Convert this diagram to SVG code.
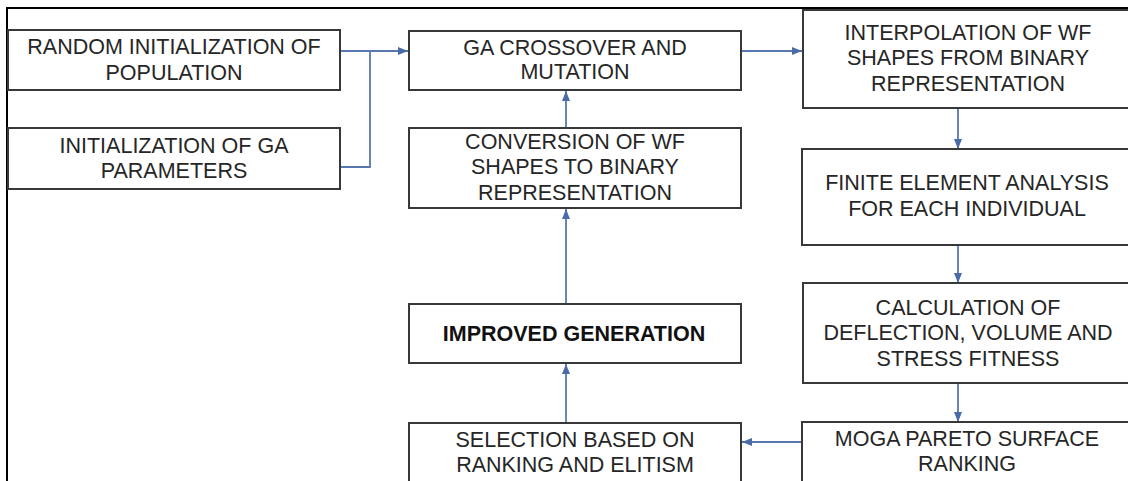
<svg xmlns="http://www.w3.org/2000/svg" width="1128" height="481" viewBox="0 0 1128 481">
  <defs>
    <marker id="arrow" markerUnits="userSpaceOnUse" markerWidth="11" markerHeight="10" refX="10" refY="5" orient="auto">
      <path d="M0,1 L10,5 L0,9 Z" fill="#4a6aa8"/>
    </marker>
    <style>
      .box { fill: #ffffff; stroke: #383838; stroke-width: 2; }
      .lbl { font-family: "Liberation Sans", Arial, sans-serif; font-size: 21.5px; fill: #262626; text-anchor: middle; }
      .bold { font-weight: bold; fill: #111111; }
      .conn { fill: none; stroke: #5a78b0; stroke-width: 1.8; }
      .frame { fill: none; stroke: #000000; stroke-width: 2; }
    </style>
  </defs>

  <rect x="0" y="0" width="1128" height="481" fill="#ffffff"/>

  <!-- outer frame (top and left edges) -->
  <path class="frame" d="M7,481 V8 H1128"/>

  <!-- connectors -->
  <g id="connectors">
    <path class="conn" d="M341,51 H408" marker-end="url(#arrow)"/>
    <path class="conn" d="M341,167 H370 V51"/>
    <path class="conn" d="M741,51 H802" marker-end="url(#arrow)"/>
    <path class="conn" d="M958,109 V149" marker-end="url(#arrow)"/>
    <path class="conn" d="M958,246 V283" marker-end="url(#arrow)"/>
    <path class="conn" d="M958,384 V422" marker-end="url(#arrow)"/>
    <path class="conn" d="M801,442 H742" marker-end="url(#arrow)"/>
    <path class="conn" d="M566,422 V364" marker-end="url(#arrow)"/>
    <path class="conn" d="M566,303 V209" marker-end="url(#arrow)"/>
    <path class="conn" d="M566,127 V91" marker-end="url(#arrow)"/>
  </g>

  <g id="random-init">
    <rect class="box" x="8" y="30" width="332" height="60"/>
    <text class="lbl" x="174" y="54">RANDOM INITIALIZATION OF</text>
    <text class="lbl" x="174" y="79.5">POPULATION</text>
  </g>

  <g id="ga-params">
    <rect class="box" x="8" y="128" width="332" height="61"/>
    <text class="lbl" x="174" y="153">INITIALIZATION OF GA</text>
    <text class="lbl" x="174" y="178">PARAMETERS</text>
  </g>

  <g id="crossover">
    <rect class="box" x="409" y="31" width="332" height="59"/>
    <text class="lbl" x="575" y="54.5">GA CROSSOVER AND</text>
    <text class="lbl" x="575" y="79">MUTATION</text>
  </g>

  <g id="conversion">
    <rect class="box" x="409" y="128" width="332" height="80"/>
    <text class="lbl" x="575" y="148.5">CONVERSION OF WF</text>
    <text class="lbl" x="575" y="174">SHAPES TO BINARY</text>
    <text class="lbl" x="575" y="199.5">REPRESENTATION</text>
  </g>

  <g id="improved">
    <rect class="box" x="409" y="304" width="332" height="59"/>
    <text class="lbl bold" x="574" y="341">IMPROVED GENERATION</text>
  </g>

  <g id="selection">
    <rect class="box" x="409" y="423" width="332" height="64"/>
    <text class="lbl" x="575" y="446.5">SELECTION BASED ON</text>
    <text class="lbl" x="575" y="472">RANKING AND ELITISM</text>
  </g>

  <g id="interpolation">
    <rect class="box" x="803" y="10" width="332" height="98"/>
    <text class="lbl" x="968" y="39.5">INTERPOLATION OF WF</text>
    <text class="lbl" x="968" y="65">SHAPES FROM BINARY</text>
    <text class="lbl" x="968" y="90.5">REPRESENTATION</text>
  </g>

  <g id="fea">
    <rect class="box" x="802" y="149" width="332" height="96"/>
    <text class="lbl" x="967" y="190">FINITE ELEMENT ANALYSIS</text>
    <text class="lbl" x="967" y="216">FOR EACH INDIVIDUAL</text>
  </g>

  <g id="fitness">
    <rect class="box" x="803" y="283" width="332" height="100"/>
    <text class="lbl" x="968" y="314.5">CALCULATION OF</text>
    <text class="lbl" x="968" y="340">DEFLECTION, VOLUME AND</text>
    <text class="lbl" x="968" y="365.5">STRESS FITNESS</text>
  </g>

  <g id="moga">
    <rect class="box" x="802" y="422" width="332" height="66"/>
    <text class="lbl" x="967" y="445.5">MOGA PARETO SURFACE</text>
    <text class="lbl" x="967" y="470.5">RANKING</text>
  </g>
</svg>
